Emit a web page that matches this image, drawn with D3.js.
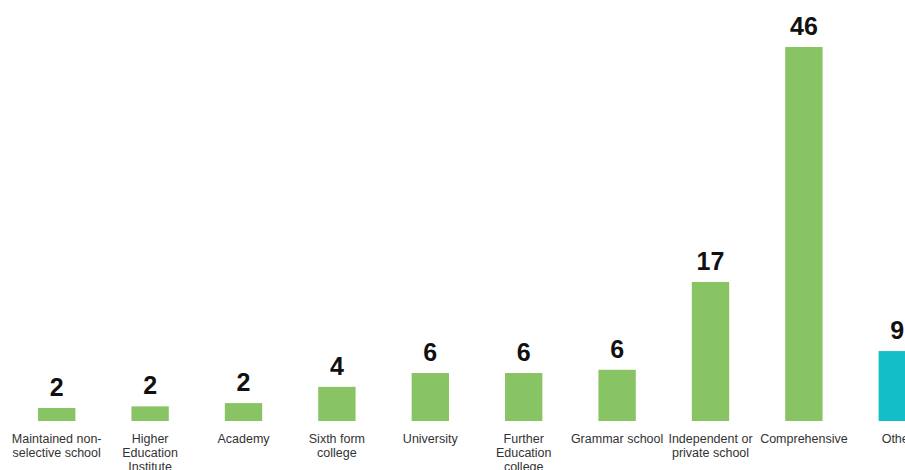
<!DOCTYPE html>
<meta charset="UTF-8">
<style>
    body { margin: 0; background: #fff; }
    .value { font-family: "Liberation Sans", Arial, sans-serif; font-weight: bold; font-size: 25px; fill: #111; }
    .cat { font-family: "Liberation Sans", Arial, sans-serif; font-size: 12.5px; fill: #333; }
</style>
<body>
<div id="chart"></div>
<script src="https://d3js.org/d3.v7.min.js"></script>
<script>

// the data
var categories = ["Maintained non-selective school", "Higher Education Institute", "Academy",
    "Sixth form college", "University", "Further Education college", "Grammar school",
    "Independent or private school", "Comprehensive", "Other"];
var labelLines = [
    ["Maintained non-", "selective school"],
    ["Higher", "Education", "Institute"],
    ["Academy"],
    ["Sixth form", "college"],
    ["University"],
    ["Further", "Education", "college"],
    ["Grammar school"],
    ["Independent or", "private school"],
    ["Comprehensive"],
    ["Other"]
];
var values = [1.6, 1.8, 2.2, 4.2, 5.9, 5.9, 6.3, 17.1, 46, 8.6];
var valueLabels = ["2", "2", "2", "4", "6", "6", "6", "17", "46", "9"];
var groups = ["school", "school", "school", "school", "school", "school", "school", "school", "school", "other"];

var width = 905, height = 470;
var baseline = 421;

var svg = d3.select("#chart").append("svg")
    .attr("width", width)
    .attr("height", height);

// scales
var x = d3.scaleBand()
    .domain(categories)
    .range([10, 944])
    .paddingInner(0.6)
    .paddingOuter(0.3);

var y = d3.scaleLinear()
    .domain([0, 46])
    .range([baseline, 47]);

var color = d3.scaleOrdinal()
    .domain(["school", "other"])
    .range(["#88c464", "#14bec9"]);

// bars
svg.selectAll(".bar")
    .data(categories)
  .enter().append("rect")
    .attr("class", "bar")
    .attr("x", function(d) { return x(d); })
    .attr("width", x.bandwidth())
    .attr("y", function(d, i) { return y(values[i]); })
    .attr("height", function(d, i) { return baseline - y(values[i]); })
    .attr("fill", function(d, i) { return color(groups[i]); });

// value labels
svg.selectAll(".value")
    .data(categories)
  .enter().append("text")
    .attr("class", "value")
    .attr("text-anchor", "middle")
    .attr("x", function(d) { return x(d) + x.bandwidth() / 2; })
    .attr("y", function(d, i) { return y(values[i]) - 12; })
    .text(function(d, i) { return valueLabels[i]; });

// category labels
var cat = svg.selectAll(".cat")
    .data(categories)
  .enter().append("text")
    .attr("class", "cat")
    .attr("text-anchor", "middle")
    .attr("x", function(d) { return x(d) + x.bandwidth() / 2; })
    .attr("y", 443);

cat.selectAll("tspan")
    .data(function(d, i) { return labelLines[i]; })
  .enter().append("tspan")
    .attr("x", function() { return d3.select(this.parentNode).attr("x"); })
    .attr("dy", function(d, i) { return i === 0 ? 0 : 14; })
    .text(function(d) { return d; });

</script>
</body>
